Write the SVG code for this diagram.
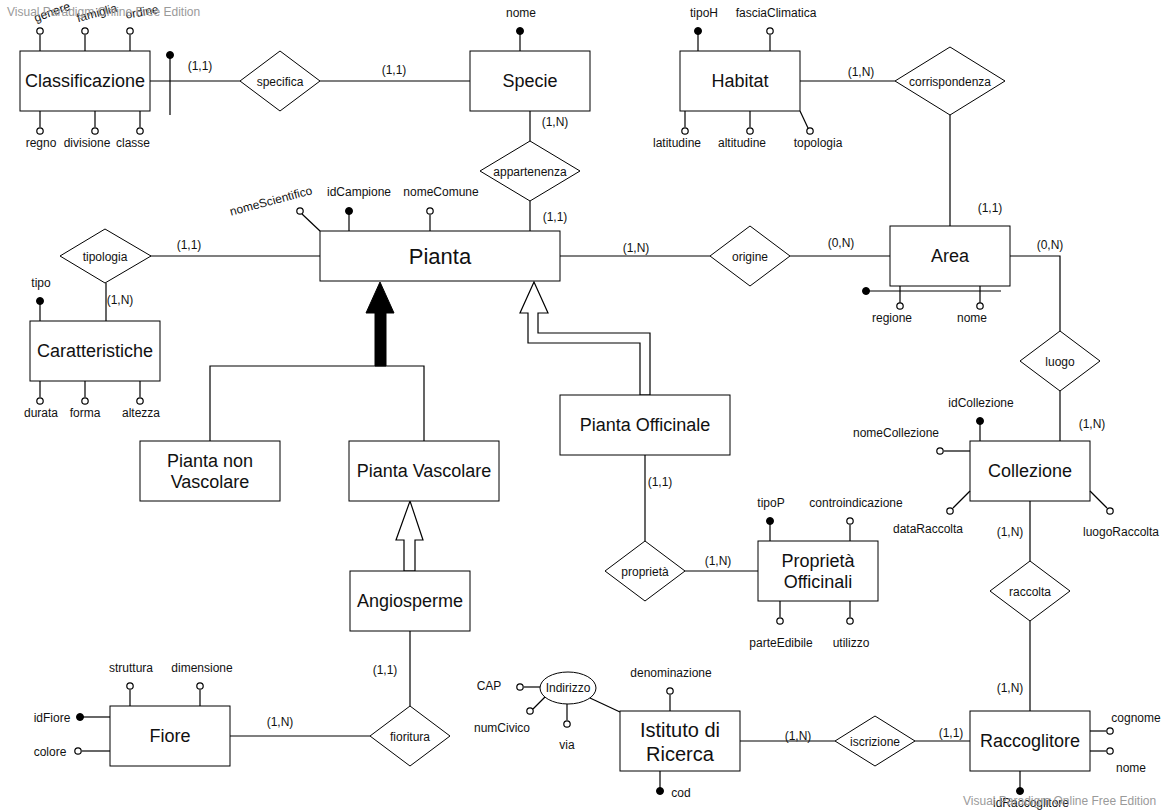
<svg xmlns="http://www.w3.org/2000/svg" width="1162" height="810" viewBox="0 0 1162 810">
<style>
  text { font-family: "Liberation Sans", Arial, sans-serif; fill: #111; dominant-baseline: central; text-anchor: middle; }
  .ent { fill: #fff; stroke: #000; stroke-width: 1; }
  .rel { fill: #fff; stroke: #000; stroke-width: 1; }
  .ln { fill: none; stroke: #000; stroke-width: 1.2; }
  .ao { fill: #fff; stroke: #000; stroke-width: 1.2; }
  .ak { fill: #000; stroke: #000; stroke-width: 1; }
  .en { font-size: 18px; }
  .rn { font-size: 12px; }
  .at { font-size: 12px; }
  .cd { font-size: 12px; }
  .wm { font-size: 12px; fill: #9a9a9a; text-anchor: start; }
</style>

<!-- connectors between entities and relationships -->
<g id="connectors">
  <line class="ln" x1="150" y1="81" x2="240" y2="81"/>
  <line class="ln" x1="170" y1="55" x2="170" y2="115"/>
  <circle class="ak" cx="170" cy="55" r="3.5"/>
  <text class="cd" x="200" y="66">(1,1)</text>
  <line class="ln" x1="320" y1="81" x2="470" y2="81"/>
  <text class="cd" x="394" y="70">(1,1)</text>
  <line class="ln" x1="530" y1="111" x2="530" y2="141"/>
  <text class="cd" x="555" y="122">(1,N)</text>
  <line class="ln" x1="530" y1="201" x2="530" y2="231"/>
  <text class="cd" x="555" y="217">(1,1)</text>
  <line class="ln" x1="800" y1="81" x2="895" y2="81"/>
  <text class="cd" x="861" y="72">(1,N)</text>
  <line class="ln" x1="950" y1="115" x2="950" y2="226"/>
  <text class="cd" x="990" y="208">(1,1)</text>
  <line class="ln" x1="150" y1="256" x2="320" y2="256"/>
  <text class="cd" x="189" y="245">(1,1)</text>
  <line class="ln" x1="106" y1="283" x2="106" y2="321"/>
  <text class="cd" x="120" y="300">(1,N)</text>
  <line class="ln" x1="560" y1="256" x2="710" y2="256"/>
  <text class="cd" x="636" y="248">(1,N)</text>
  <line class="ln" x1="790" y1="256" x2="890" y2="256"/>
  <text class="cd" x="841" y="243">(0,N)</text>
  <polyline class="ln" points="1010,256 1060,256 1060,331"/>
  <text class="cd" x="1050" y="245">(0,N)</text>
  <line class="ln" x1="1060" y1="391" x2="1060" y2="441"/>
  <text class="cd" x="1092" y="424">(1,N)</text>
  <line class="ln" x1="1030" y1="501" x2="1030" y2="561"/>
  <text class="cd" x="1010" y="532">(1,N)</text>
  <line class="ln" x1="1030" y1="621" x2="1030" y2="711"/>
  <text class="cd" x="1010" y="688">(1,N)</text>
  <line class="ln" x1="645" y1="455" x2="645" y2="541"/>
  <text class="cd" x="660" y="482">(1,1)</text>
  <line class="ln" x1="685" y1="571" x2="758" y2="571"/>
  <text class="cd" x="718" y="561">(1,N)</text>
  <line class="ln" x1="410" y1="631" x2="410" y2="706"/>
  <text class="cd" x="385" y="670">(1,1)</text>
  <line class="ln" x1="230" y1="736" x2="370" y2="736"/>
  <text class="cd" x="280" y="722">(1,N)</text>
  <line class="ln" x1="740" y1="741" x2="835" y2="741"/>
  <text class="cd" x="798" y="736">(1,N)</text>
  <line class="ln" x1="915" y1="741" x2="970" y2="741"/>
  <text class="cd" x="951" y="733">(1,1)</text>
  <line class="ln" x1="590" y1="698" x2="620" y2="712"/>

  <!-- total generalization of Pianta -->
  <polygon fill="#000" stroke="#000" points="380,282 394,313 386,313 386,366 375,366 375,313 366,313"/>
  <polyline class="ln" points="210,441 210,366 424,366 424,441"/>
  <!-- partial generalization: Pianta Officinale -->
  <path fill="#fff" stroke="#000" stroke-width="1.2" d="M534,282 L548,313 L538,313 L538,333 L650,333 L650,395 L640,395 L640,343 L528,343 L528,313 L520,313 Z"/>
  <!-- Angiosperme is a Pianta Vascolare -->
  <path fill="#fff" stroke="#000" stroke-width="1.2" d="M410,501 L423,540 L415,540 L415,571 L404,571 L404,540 L396,540 Z"/>
</g>

<!-- Classificazione -->
<g id="classificazione">
  <rect class="ent" x="20" y="51" width="130" height="60"/>
  <text class="en" x="85" y="81">Classificazione</text>
  <line class="ln" x1="40" y1="51" x2="40" y2="35"/><circle class="ao" cx="40" cy="31" r="3.2"/>
  <line class="ln" x1="85" y1="51" x2="85" y2="35"/><circle class="ao" cx="85" cy="31" r="3.2"/>
  <line class="ln" x1="130" y1="51" x2="130" y2="35"/><circle class="ao" cx="130" cy="31" r="3.2"/>
  <text class="at" transform="translate(52,12) rotate(-20)">genere</text>
  <text class="at" transform="translate(97,13) rotate(-15)">famiglia</text>
  <text class="at" transform="translate(142,12) rotate(-10)">ordine</text>
  <line class="ln" x1="40" y1="111" x2="40" y2="127"/><circle class="ao" cx="40" cy="131" r="3.2"/>
  <line class="ln" x1="95" y1="111" x2="95" y2="127"/><circle class="ao" cx="95" cy="131" r="3.2"/>
  <line class="ln" x1="140" y1="111" x2="140" y2="127"/><circle class="ao" cx="140" cy="131" r="3.2"/>
  <text class="at" x="41" y="143">regno</text>
  <text class="at" x="87" y="143">divisione</text>
  <text class="at" x="133" y="143">classe</text>
</g>

<g id="specifica">
  <polygon class="rel" points="240,81 280,51 320,81 280,111"/>
  <text class="rn" x="280" y="82">specifica</text>
</g>

<g id="specie">
  <rect class="ent" x="470" y="51" width="120" height="60"/>
  <text class="en" x="530" y="81">Specie</text>
  <line class="ln" x1="520" y1="51" x2="520" y2="31"/><circle class="ak" cx="520" cy="31" r="3.5"/>
  <text class="at" x="521" y="13">nome</text>
</g>

<g id="appartenenza">
  <polygon class="rel" points="480,171 530,141 580,171 530,201"/>
  <text class="rn" x="530" y="172">appartenenza</text>
</g>

<g id="habitat">
  <rect class="ent" x="680" y="51" width="120" height="60"/>
  <text class="en" x="740" y="81">Habitat</text>
  <line class="ln" x1="698" y1="51" x2="698" y2="31"/><circle class="ak" cx="698" cy="31" r="3.5"/>
  <line class="ln" x1="770" y1="51" x2="770" y2="35"/><circle class="ao" cx="770" cy="31" r="3.2"/>
  <text class="at" x="704" y="13">tipoH</text>
  <text class="at" x="776" y="13">fasciaClimatica</text>
  <line class="ln" x1="685" y1="111" x2="685" y2="127"/><circle class="ao" cx="685" cy="131" r="3.2"/>
  <line class="ln" x1="750" y1="111" x2="750" y2="127"/><circle class="ao" cx="750" cy="131" r="3.2"/>
  <line class="ln" x1="800" y1="111" x2="808" y2="128"/><circle class="ao" cx="810" cy="131" r="3.2"/>
  <text class="at" x="677" y="143">latitudine</text>
  <text class="at" x="742" y="143">altitudine</text>
  <text class="at" x="818" y="143">topologia</text>
</g>

<g id="corrispondenza">
  <polygon class="rel" points="895,81 950,47 1005,81 950,115"/>
  <text class="rn" x="950" y="82">corrispondenza</text>
</g>

<g id="pianta">
  <rect class="ent" x="320" y="231" width="240" height="50"/>
  <text x="440" y="256" style="font-size:22px">Pianta</text>
  <line class="ln" x1="320" y1="231" x2="302" y2="214"/><circle class="ao" cx="300" cy="211" r="3.2"/>
  <line class="ln" x1="349" y1="231" x2="349" y2="211"/><circle class="ak" cx="349" cy="211" r="3.5"/>
  <line class="ln" x1="430" y1="231" x2="430" y2="215"/><circle class="ao" cx="430" cy="211" r="3.2"/>
  <text class="at" transform="translate(271,201) rotate(-15)">nomeScientifico</text>
  <text class="at" x="359" y="192">idCampione</text>
  <text class="at" x="441" y="192">nomeComune</text>
</g>

<g id="tipologia">
  <polygon class="rel" points="60,256 105,229 151,256 105,283"/>
  <text class="rn" x="105" y="257">tipologia</text>
</g>

<g id="caratteristiche">
  <rect class="ent" x="30" y="321" width="130" height="60"/>
  <text class="en" x="95" y="351">Caratteristiche</text>
  <line class="ln" x1="40" y1="321" x2="40" y2="301"/><circle class="ak" cx="40" cy="301" r="3.5"/>
  <text class="at" x="41" y="283">tipo</text>
  <line class="ln" x1="40" y1="381" x2="40" y2="397"/><circle class="ao" cx="40" cy="401" r="3.2"/>
  <line class="ln" x1="85" y1="381" x2="85" y2="397"/><circle class="ao" cx="85" cy="401" r="3.2"/>
  <line class="ln" x1="140" y1="381" x2="140" y2="397"/><circle class="ao" cx="140" cy="401" r="3.2"/>
  <text class="at" x="41" y="413">durata</text>
  <text class="at" x="85" y="413">forma</text>
  <text class="at" x="141" y="413">altezza</text>
</g>

<g id="origine">
  <polygon class="rel" points="710,256 750,226 790,256 750,286"/>
  <text class="rn" x="750" y="257">origine</text>
</g>

<g id="area">
  <rect class="ent" x="890" y="226" width="120" height="60"/>
  <text class="en" x="950" y="256">Area</text>
  <line class="ln" x1="866" y1="291" x2="1001" y2="291"/><circle class="ak" cx="866" cy="291" r="3.5"/>
  <line class="ln" x1="900" y1="286" x2="900" y2="303"/><circle class="ao" cx="900" cy="306" r="3.2"/>
  <line class="ln" x1="980" y1="286" x2="980" y2="303"/><circle class="ao" cx="980" cy="306" r="3.2"/>
  <text class="at" x="892" y="318">regione</text>
  <text class="at" x="972" y="318">nome</text>
</g>

<g id="luogo">
  <polygon class="rel" points="1020,361 1060,331 1100,361 1060,391"/>
  <text class="rn" x="1060" y="362">luogo</text>
</g>

<g id="collezione">
  <rect class="ent" x="970" y="441" width="120" height="60"/>
  <text class="en" x="1030" y="471">Collezione</text>
  <line class="ln" x1="980" y1="441" x2="980" y2="421"/><circle class="ak" cx="980" cy="421" r="3.5"/>
  <text class="at" x="981" y="403">idCollezione</text>
  <line class="ln" x1="970" y1="451" x2="944" y2="451"/><circle class="ao" cx="940" cy="451" r="3.2"/>
  <text class="at" x="896" y="433">nomeCollezione</text>
  <line class="ln" x1="970" y1="491" x2="953" y2="508"/><circle class="ao" cx="950" cy="511" r="3.2"/>
  <text class="at" x="928" y="529">dataRaccolta</text>
  <line class="ln" x1="1090" y1="491" x2="1107" y2="508"/><circle class="ao" cx="1110" cy="511" r="3.2"/>
  <text class="at" x="1121" y="532">luogoRaccolta</text>
</g>

<g id="pianta-non-vascolare">
  <rect class="ent" x="140" y="441" width="140" height="60"/>
  <text class="en" x="210" y="461">Pianta non</text>
  <text class="en" x="210" y="482">Vascolare</text>
</g>

<g id="pianta-vascolare">
  <rect class="ent" x="349" y="441" width="150" height="60"/>
  <text class="en" x="424" y="471">Pianta Vascolare</text>
</g>

<g id="pianta-officinale">
  <rect class="ent" x="560" y="395" width="170" height="60"/>
  <text class="en" x="645" y="425">Pianta Officinale</text>
</g>

<g id="proprieta">
  <polygon class="rel" points="605,571 645,541 685,571 645,601"/>
  <text class="rn" x="645" y="572">proprietà</text>
</g>

<g id="proprieta-officinali">
  <rect class="ent" x="758" y="541" width="120" height="60"/>
  <text class="en" x="818" y="561">Proprietà</text>
  <text class="en" x="818" y="582">Officinali</text>
  <line class="ln" x1="770" y1="541" x2="770" y2="521"/><circle class="ak" cx="770" cy="521" r="3.5"/>
  <line class="ln" x1="850" y1="541" x2="850" y2="525"/><circle class="ao" cx="850" cy="521" r="3.2"/>
  <text class="at" x="771" y="503">tipoP</text>
  <text class="at" x="856" y="503">controindicazione</text>
  <line class="ln" x1="780" y1="601" x2="780" y2="617"/><circle class="ao" cx="780" cy="621" r="3.2"/>
  <line class="ln" x1="850" y1="601" x2="850" y2="617"/><circle class="ao" cx="850" cy="621" r="3.2"/>
  <text class="at" x="781" y="643">parteEdibile</text>
  <text class="at" x="851" y="643">utilizzo</text>
</g>

<g id="raccolta">
  <polygon class="rel" points="990,591 1030,561 1070,591 1030,621"/>
  <text class="rn" x="1030" y="592">raccolta</text>
</g>

<g id="angiosperme">
  <rect class="ent" x="350" y="571" width="120" height="60"/>
  <text class="en" x="410" y="601">Angiosperme</text>
</g>

<g id="fioritura">
  <polygon class="rel" points="370,736 410,706 450,736 410,766"/>
  <text class="rn" x="410" y="737">fioritura</text>
</g>

<g id="fiore">
  <rect class="ent" x="110" y="706" width="120" height="60"/>
  <text class="en" x="170" y="736">Fiore</text>
  <line class="ln" x1="110" y1="717" x2="80" y2="717"/><circle class="ak" cx="80" cy="717" r="3.5"/>
  <text class="at" x="52" y="718">idFiore</text>
  <line class="ln" x1="110" y1="751" x2="82" y2="751"/><circle class="ao" cx="78" cy="751" r="3.2"/>
  <text class="at" x="50" y="752">colore</text>
  <line class="ln" x1="130" y1="706" x2="130" y2="690"/><circle class="ao" cx="130" cy="686" r="3.2"/>
  <line class="ln" x1="200" y1="706" x2="200" y2="690"/><circle class="ao" cx="200" cy="686" r="3.2"/>
  <text class="at" x="131" y="668">struttura</text>
  <text class="at" x="202" y="668">dimensione</text>
</g>

<g id="indirizzo">
  <ellipse class="rel" cx="568" cy="688" rx="28" ry="16"/>
  <text class="rn" x="568" y="688">Indirizzo</text>
  <line class="ln" x1="540" y1="687" x2="524" y2="687"/><circle class="ao" cx="520" cy="687" r="3.2"/>
  <text class="at" x="489" y="686">CAP</text>
  <line class="ln" x1="545" y1="697" x2="533" y2="709"/><circle class="ao" cx="530" cy="711" r="3.2"/>
  <text class="at" x="502" y="728">numCivico</text>
  <line class="ln" x1="567" y1="704" x2="567" y2="720"/><circle class="ao" cx="567" cy="724" r="3.2"/>
  <text class="at" x="567" y="745">via</text>
</g>

<g id="istituto-di-ricerca">
  <rect class="ent" x="620" y="711" width="120" height="60"/>
  <text x="680" y="730" style="font-size:20px">Istituto di</text>
  <text x="680" y="754" style="font-size:20px">Ricerca</text>
  <line class="ln" x1="670" y1="711" x2="670" y2="695"/><circle class="ao" cx="670" cy="691" r="3.2"/>
  <text class="at" x="671" y="673">denominazione</text>
  <line class="ln" x1="660" y1="771" x2="660" y2="791"/><circle class="ak" cx="660" cy="791" r="3.5"/>
  <text class="at" x="681" y="793">cod</text>
</g>

<g id="iscrizione">
  <polygon class="rel" points="835,741 875,716 915,741 875,766"/>
  <text class="rn" x="875" y="742">iscrizione</text>
</g>

<g id="raccoglitore">
  <rect class="ent" x="970" y="711" width="120" height="60"/>
  <text class="en" x="1030" y="741">Raccoglitore</text>
  <line class="ln" x1="1090" y1="731" x2="1106" y2="731"/><circle class="ao" cx="1110" cy="731" r="3.2"/>
  <text class="at" x="1136" y="718">cognome</text>
  <line class="ln" x1="1090" y1="751" x2="1106" y2="751"/><circle class="ao" cx="1110" cy="751" r="3.2"/>
  <text class="at" x="1131" y="768">nome</text>
  <line class="ln" x1="1020" y1="771" x2="1020" y2="791"/><circle class="ak" cx="1020" cy="791" r="3.5"/>
  <text class="at" x="1031" y="803">idRaccoglitore</text>
</g>

<!-- editor watermark -->
<text class="wm" x="7" y="12">Visual Paradigm Online Free Edition</text>
<text class="wm" x="963" y="801">Visual Paradigm Online Free Edition</text>
</svg>
